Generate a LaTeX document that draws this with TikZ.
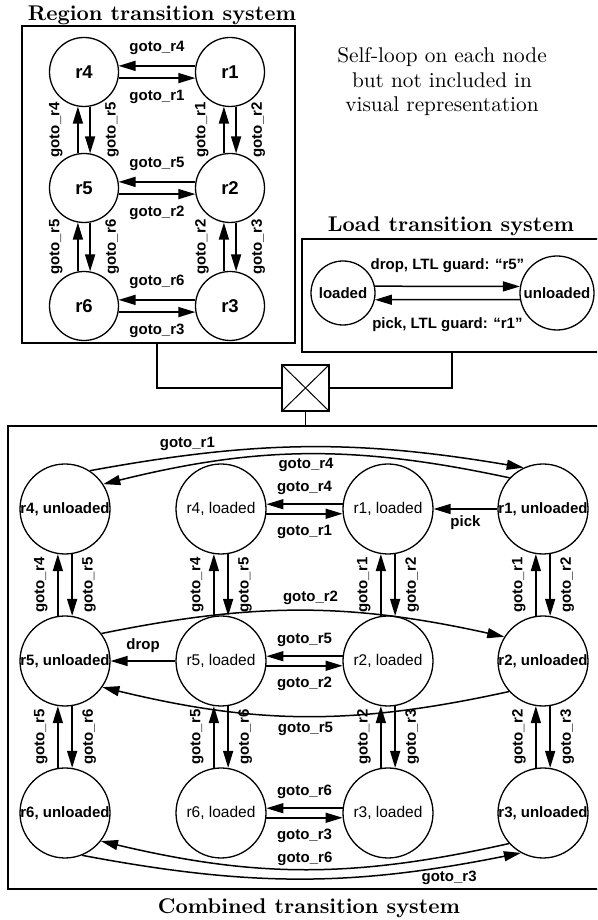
\documentclass[tikz,border=0pt]{standalone}
\usepackage{fontspec}
\newfontfamily\arialfam{Liberation Sans}
\usetikzlibrary{arrows.meta,calc}
\tikzset{
  arr/.style={line width=1.5pt, -{Triangle[length=17pt,width=10pt]}},
  rnode/.style={circle, draw, line width=1.3pt, minimum size=69pt, inner sep=0pt,
    font=\arialfam\bfseries\fontsize{18.5}{20}\selectfont},
  cnode/.style={circle, draw, line width=1.3pt, minimum size=90pt, inner sep=0pt},
  unl/.style={cnode, font=\arialfam\bfseries\fontsize{15}{17}\selectfont},
  ldd/.style={cnode, font=\arialfam\fontsize{15.5}{17}\selectfont},
  lnode/.style={circle, draw, line width=1.3pt, inner sep=0pt,
    font=\arialfam\bfseries\fontsize{15}{17}\selectfont},
  lbl/.style={font=\arialfam\bfseries\fontsize{15}{17}\selectfont, inner sep=0pt},
  frame/.style={line width=1.1pt},
  title/.style={font=\bfseries\fontsize{10}{12}\selectfont, anchor=base, scale=2.13, inner sep=0pt},
}
% region pairs: #1 upper/left node, #2 lower/right node
\newcommand\RegV[4]{%
  \draw[arr] (#2.100) -- node[lbl,xshift=-22pt,rotate=90]{#3} (#1.260);
  \draw[arr] (#1.280) -- node[lbl,xshift=22pt,rotate=90]{#4} (#2.80);}
\newcommand\RegH[4]{%
  \draw[arr] (#2.170) -- node[lbl,yshift=18pt]{#3} (#1.10);
  \draw[arr] (#1.350) -- node[lbl,yshift=-19pt]{#4} (#2.190);}
\newcommand\ComV[4]{%
  \draw[arr] (#2.99) -- node[lbl,xshift=-17pt,rotate=90]{#3} (#1.261);
  \draw[arr] (#1.279) -- node[lbl,xshift=17pt,rotate=90]{#4} (#2.81);}
\newcommand\ComH[4]{%
  \draw[arr] (#2.174) -- node[lbl,yshift=16pt]{#3} (#1.6);
  \draw[arr] (#1.354) -- node[lbl,yshift=-18pt]{#4} (#2.186);}
\begin{document}
\begin{tikzpicture}[x=1pt,y=1pt]
\useasboundingbox (0,0) rectangle (597,920);
\fill[white] (0,0) rectangle (597,920);
\clip (0,0) rectangle (597,920);

% ---------- frames and titles ----------
\draw[frame] (22,577) rectangle (295,894);
\draw[frame] (302,568) rectangle (610,681);
\draw[frame] (8,31) rectangle (610,494);
\node[title] (treg) at (162,899) {Region transition system};
\node[title] (tload) at (451,688) {Load transition system};
\node[title] (tcomb) at (309,7) {Combined transition system};
\node[font=\fontsize{10}{11.5}\selectfont, align=center, scale=2.13, inner sep=0pt] (note) at (442,838)
  {Self-loop on each node\\but not included in\\visual representation};

% ---------- product symbol ----------
\node[draw, line width=1.5pt, minimum width=47pt, minimum height=46pt, inner sep=0pt] (prod) at (305.5,532) {};
\draw[line width=1pt] (prod.north west) -- (prod.south east) (prod.north east) -- (prod.south west);
\coordinate (rbs) at (157,577);
\coordinate (lbs) at (452,568);
\coordinate (cbt) at (305.5,494);
\draw[frame] (rbs) |- (prod.west);
\draw[frame] (lbs) |- (prod.east);
\draw[frame] (prod.south) -- (cbt);

% ---------- region transition system ----------
\node[rnode] (r4) at (84,848) {r4};
\node[rnode] (r1) at (230,848) {r1};
\node[rnode] (r5) at (84,732) {r5};
\node[rnode] (r2) at (230,732) {r2};
\node[rnode] (r6) at (84,614) {r6};
\node[rnode] (r3) at (230,614) {r3};
\RegH{r4}{r1}{goto\_r4}{goto\_r1}
\RegH{r5}{r2}{goto\_r5}{goto\_r2}
\RegH{r6}{r3}{goto\_r6}{goto\_r3}
\RegV{r4}{r5}{goto\_r4}{goto\_r5}
\RegV{r1}{r2}{goto\_r1}{goto\_r2}
\RegV{r5}{r6}{goto\_r5}{goto\_r6}
\RegV{r2}{r3}{goto\_r2}{goto\_r3}

% ---------- load transition system ----------
\node[lnode, minimum size=64pt] (lo) at (343,627) {loaded};
\node[lnode, minimum size=74pt] (un) at (557,627) {unloaded};
\draw[arr] (lo.12) -- node[lbl,yshift=21pt]{drop, LTL guard: “r5”} (un.170);
\draw[arr] (un.190) -- node[lbl,yshift=-25pt]{pick, LTL guard: “r1”} (lo.348);

% ---------- combined transition system ----------
\node[unl] (c4u) at (65,411) {r4, unloaded};
\node[ldd] (c4l) at (221,411) {r4, loaded};
\node[ldd] (c1l) at (388,411) {r1, loaded};
\node[unl] (c1u) at (543,411) {r1, unloaded};
\node[unl] (c5u) at (65,259) {r5, unloaded};
\node[ldd] (c5l) at (221,259) {r5, loaded};
\node[ldd] (c2l) at (388,259) {r2, loaded};
\node[unl] (c2u) at (543,259) {r2, unloaded};
\node[unl] (c6u) at (65,107) {r6, unloaded};
\node[ldd] (c6l) at (221,107) {r6, loaded};
\node[ldd] (c3l) at (388,107) {r3, loaded};
\node[unl] (c3u) at (543,107) {r3, unloaded};

\ComH{c4l}{c1l}{goto\_r4}{goto\_r1}
\ComH{c5l}{c2l}{goto\_r5}{goto\_r2}
\ComH{c6l}{c3l}{goto\_r6}{goto\_r3}
\ComV{c4u}{c5u}{goto\_r4}{goto\_r5}
\ComV{c4l}{c5l}{goto\_r4}{goto\_r5}
\ComV{c1l}{c2l}{goto\_r1}{goto\_r2}
\ComV{c1u}{c2u}{goto\_r1}{goto\_r2}
\ComV{c5u}{c6u}{goto\_r5}{goto\_r6}
\ComV{c5l}{c6l}{goto\_r5}{goto\_r6}
\ComV{c2l}{c3l}{goto\_r2}{goto\_r3}
\ComV{c2u}{c3u}{goto\_r2}{goto\_r3}

\draw[arr] (c1u.west) -- node[lbl,below=6pt]{pick} (c1l.east);
\draw[arr] (c5l.west) -- node[lbl,above=8pt]{drop} (c5u.east);

\draw[arr] (c4u.57) to[bend left=10] node[lbl,pos=0.21,above=4pt]{goto\_r1} (c1u.115);
\draw[arr] (c1u.137) to[bend right=13] node[lbl,pos=0.5,below=3pt]{goto\_r4} (c4u.33);
\draw[arr] (c5u.37) to[bend left=12] node[lbl,pos=0.52,above=5pt]{goto\_r2} (c2u.148);
\draw[arr] (c2u.222) to[bend left=13] node[lbl,pos=0.5,below=5pt]{goto\_r5} (c5u.325);
\draw[arr] (c3u.222) to[bend left=13] node[lbl,pos=0.5,above=3pt]{goto\_r6} (c6u.322);
\draw[arr] (c6u.292) to[bend right=11] node[lbl,pos=0.85,below=4pt]{goto\_r3} (c3u.241);
\end{tikzpicture}
\end{document}
